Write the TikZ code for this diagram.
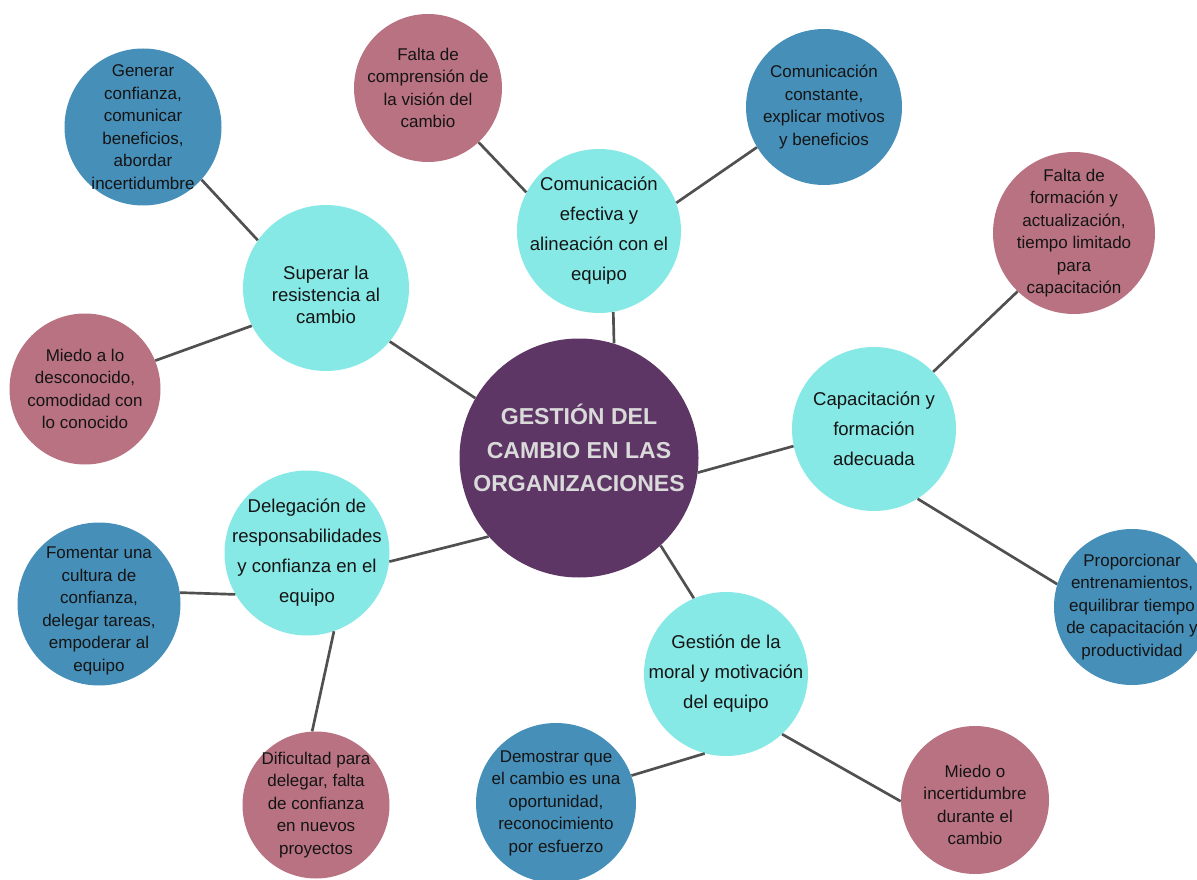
\documentclass[tikz,border=0pt]{standalone}
\usepackage{fontspec}
\setmainfont{Liberation Sans}
\usepackage{tikz}
\definecolor{hubpurple}{HTML}{5E3665}
\definecolor{topicteal}{HTML}{86E9E6}
\definecolor{actionblue}{HTML}{468FB8}
\definecolor{issuerose}{HTML}{B97282}
\definecolor{linkgray}{HTML}{505050}
\definecolor{hubtext}{HTML}{DADADA}
\definecolor{ink}{HTML}{141414}

\begin{document}
\begin{tikzpicture}[
  hub/.style={circle, fill=hubpurple, inner sep=0pt, minimum size=5.975cm},
  topic/.style={circle, fill=topicteal, inner sep=0pt, minimum size=#1},
  action/.style={circle, fill=actionblue, inner sep=0pt, minimum size=#1},
  issue/.style={circle, fill=issuerose, inner sep=0pt, minimum size=#1},
  hubfont/.style={align=center, text=hubtext, font=\fontsize{16.4}{23.8}\selectfont\bfseries},
  topicfont/.style={align=center, text=ink, font=\fontsize{13.2}{21.3}\selectfont},
  tightfont/.style={align=center, text=ink, font=\fontsize{13.2}{15.6}\selectfont},
  notefont/.style={align=center, text=ink, font=\fontsize{12.1}{16}\selectfont},
  link/.style={draw=linkgray, line width=1.9pt},
]
\useasboundingbox (0,0) rectangle (29.925,-22);

\node[hub, label={[hubfont, yshift=0.25cm]center:{GESTIÓN DEL\\CAMBIO EN LAS\\ORGANIZACIONES}}] (hub) at (14.475,-11.45) {};

% main topics
\node[topic=4.15cm, label={[tightfont, yshift=-0.175cm]center:{Superar la\\resistencia al\\cambio}}] (resist) at (8.15,-7.2) {};
\node[topic=4.1cm, label={[topicfont]center:{Comunicación\\efectiva y\\alineación con el\\equipo}}] (comm) at (14.975,-5.775) {};
\node[topic=4.1cm, label={[topicfont]center:{Capacitación y\\formación\\adecuada}}] (train) at (21.85,-10.725) {};
\node[topic=4.1cm, label={[topicfont]center:{Gestión de la\\moral y motivación\\del equipo}}] (moral) at (18.15,-16.85) {};
\node[topic=4.125cm, label={[topicfont]center:{Delegación de\\responsabilidades\\y confianza en el\\equipo}}] (deleg) at (7.675,-13.825) {};

% answers
\node[action=3.925cm, label={[notefont]center:{Generar\\confianza,\\comunicar\\beneficios,\\abordar\\incertidumbre}}] (gen) at (3.575,-3.175) {};
\node[action=3.9cm, label={[notefont]center:{Comunicación\\constante,\\explicar motivos\\y beneficios}}] (const) at (20.6,-2.675) {};
\node[action=3.9cm, label={[notefont]center:{Proporcionar\\entrenamientos,\\equilibrar tiempo\\de capacitación y\\productividad}}] (prop) at (28.3,-15.175) {};
\node[action=4cm, label={[notefont]center:{Demostrar que\\el cambio es una\\oportunidad,\\reconocimiento\\por esfuerzo}}] (demo) at (13.9,-20.075) {};
\node[action=4.075cm, label={[notefont, yshift=-0.175cm]center:{Fomentar una\\cultura de\\confianza,\\delegar tareas,\\empoderar al\\equipo}}] (fom) at (2.475,-15.1) {};

% obstacles
\node[issue=3.7cm, label={[notefont]center:{Falta de\\comprensión de\\la visión del\\cambio}}] (vision) at (10.7,-2.2) {};
\node[issue=4.05cm, label={[notefont]center:{Falta de\\formación y\\actualización,\\tiempo limitado\\para\\capacitación}}] (skills) at (26.85,-5.825) {};
\node[issue=3.775cm, label={[notefont]center:{Miedo a lo\\desconocido,\\comodidad con\\lo conocido}}] (fear) at (2.125,-9.725) {};
\node[issue=3.675cm, label={[notefont]center:{Dificultad para\\delegar, falta\\de confianza\\en nuevos\\proyectos}}] (trust) at (7.9,-20.125) {};
\node[issue=3.7cm, label={[notefont, yshift=-0.125cm]center:{Miedo o\\incertidumbre\\durante el\\cambio}}] (doubt) at (24.375,-20.0) {};

\draw[link] (resist.-40) -- (hub.150);
\draw[link] (comm.-80) -- (hub.73);
\draw[link] (train.192) -- (hub.-7);
\draw[link] (moral.113) -- (hub.-47);
\draw[link] (deleg.-6) -- (hub.221);

\draw[link] (gen.-42) -- (resist.145);
\draw[link] (fear.22) -- (resist.207);
\draw[link] (vision.-47) -- (comm.152);
\draw[link] (const.211) -- (comm.20);
\draw[link] (skills.226) -- (train.44);
\draw[link] (prop.163) -- (train.-58);
\draw[link] (demo.20) -- (moral.255);
\draw[link] (doubt.181) -- (moral.-47);
\draw[link] (fom.8) -- (deleg.210);
\draw[link] (trust.93) -- (deleg.-71);

\end{tikzpicture}
\end{document}
